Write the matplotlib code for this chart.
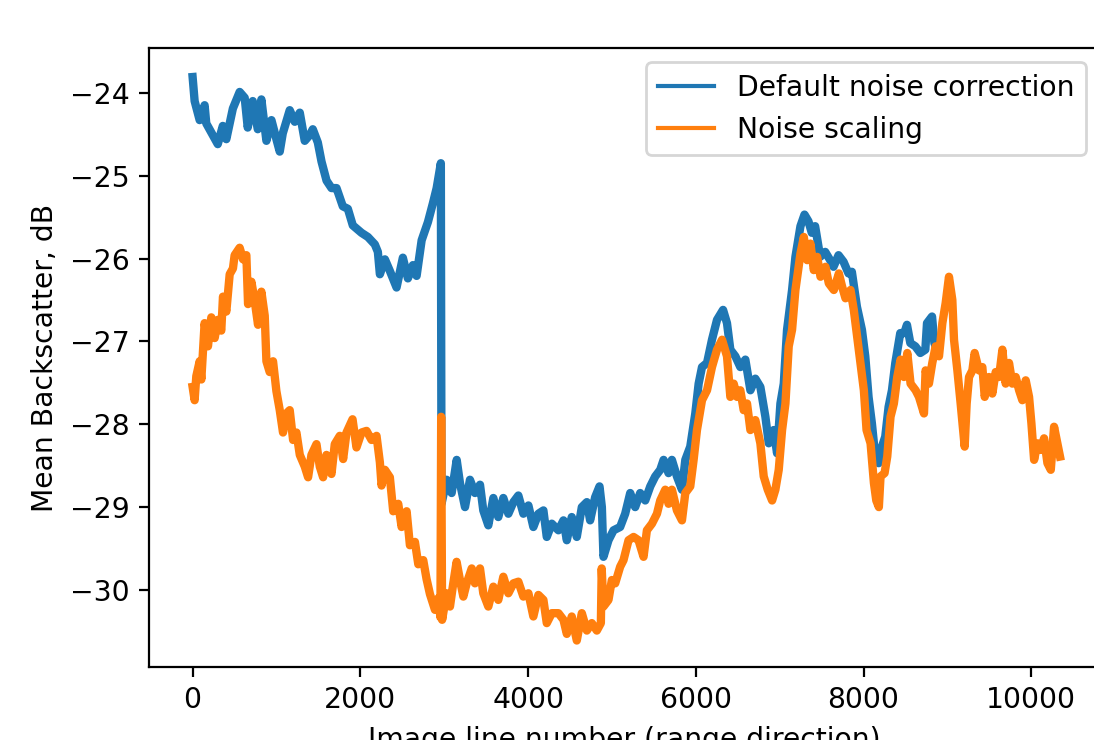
import matplotlib
matplotlib.use("Agg")
import matplotlib.pyplot as plt
from matplotlib.lines import Line2D

# values
default_x = [0, 24, 84, 143, 163, 240, 300, 360, 402, 480, 561, 621, 657, 717, 777, 820,
             880, 940, 999, 1039, 1075, 1158, 1218, 1278, 1337, 1397, 1433, 1493, 1537,
             1597, 1656, 1716, 1791, 1851, 1910, 2014, 2090, 2173, 2209, 2233, 2293, 2352,
             2432, 2507, 2567, 2627, 2671, 2731, 2806, 2866, 2910, 2960, 2968,
             3029, 3089, 3149, 3188, 3248, 3307, 3367, 3427, 3466, 3526, 3586, 3645, 3705,
             3765, 3825, 3884, 3944, 4004, 4063, 4123, 4183, 4223, 4283, 4362, 4422, 4462,
             4521, 4581, 4641, 4701, 4740, 4800, 4852, 4880, 4899, 4959, 5019, 5098, 5158,
             5218, 5277, 5337, 5397, 5457, 5516, 5576, 5616, 5675, 5715, 5775, 5835, 5875,
             5934, 5994, 6034, 6074, 6134, 6193, 6253, 6325, 6372, 6412, 6472, 6531, 6591,
             6651, 6710, 6770, 6830, 6870, 6929, 6969, 7009, 7049, 7088, 7148, 7188, 7248,
             7296, 7343, 7383, 7423, 7483, 7543, 7602, 7642, 7702, 7762, 7821, 7861, 7921,
             7981, 8021, 8060, 8100, 8140, 8180, 8220, 8259, 8299, 8339, 8379, 8438, 8486,
             8518, 8558, 8618, 8677, 8737, 8757, 8817, 8845, 8860]
default_db = [-23.81, -24.10, -24.33, -24.15, -24.37, -24.51, -24.62, -24.40, -24.56, -24.19,
              -23.99, -24.06, -24.42, -24.10, -24.44, -24.08, -24.58, -24.33, -24.56, -24.71,
              -24.49, -24.21, -24.35, -24.24, -24.58, -24.51, -24.44, -24.60, -24.83, -25.06,
              -25.15, -25.15, -25.37, -25.40, -25.60, -25.69, -25.74, -25.83, -25.92, -26.19,
              -26.01, -26.15, -26.35, -25.99, -26.24, -26.08, -26.21, -25.78, -25.56, -25.33,
              -25.15, -24.85, -28.96,
              -28.67, -28.83, -28.43, -28.71, -29.00, -28.67, -28.83, -28.73, -29.04, -29.22,
              -28.89, -29.12, -28.89, -29.08, -28.94, -28.86, -29.08, -28.98, -29.24, -29.08,
              -29.04, -29.36, -29.20, -29.28, -29.16, -29.40, -29.12, -29.36, -29.00, -28.94,
              -29.16, -28.88, -28.75, -29.00, -29.60, -29.40, -29.28, -29.24, -29.08, -28.83,
              -29.00, -28.83, -28.92, -28.75, -28.63, -28.55, -28.43, -28.59, -28.43, -28.63,
              -28.79, -28.43, -28.27, -27.87, -27.51, -27.31, -27.26, -26.98, -26.74, -26.62,
              -26.78, -27.10, -27.18, -27.31, -27.22, -27.59, -27.45, -27.55, -27.91, -28.23,
              -28.07, -28.35, -27.75, -27.51, -26.86, -26.38, -25.98, -25.61, -25.47, -25.55,
              -25.69, -25.61, -25.98, -25.92, -26.02, -26.10, -25.96, -26.04, -26.18, -26.16,
              -26.58, -26.86, -27.18, -27.67, -27.99, -28.39, -28.47, -28.27, -28.15, -27.79,
              -27.59, -27.26, -26.90, -26.90, -26.80, -27.02, -27.06, -27.14, -27.10, -26.78,
              -26.70, -27.02, -27.06]

scaling_x = [0, 24, 44, 84, 104, 143, 183, 223, 263, 302, 342, 362, 402, 442, 481, 501, 561,
             601, 641, 661, 701, 740, 780, 820, 860, 880, 919, 959, 999, 1039, 1078, 1118,
             1158, 1198, 1238, 1278, 1337, 1377, 1417, 1477, 1516, 1556, 1596, 1656, 1695,
             1755, 1795, 1835, 1907, 1954, 2014, 2074, 2134, 2193, 2233, 2253, 2293, 2352,
             2392, 2452, 2492, 2552, 2591, 2651, 2691, 2750, 2790, 2830, 2890, 2929, 2955,
             2964, 2975, 3029, 3069, 3108, 3148, 3188, 3228, 3268, 3328, 3367, 3427, 3466,
             3526, 3586, 3645, 3705, 3765, 3825, 3884, 3944, 4004, 4063, 4123, 4183, 4223,
             4283, 4362, 4422, 4462, 4521, 4581, 4641, 4701, 4760, 4820, 4868, 4878, 4899,
             4959, 4999, 5039, 5098, 5138, 5198, 5258, 5317, 5377, 5417, 5477, 5537, 5576,
             5636, 5675, 5715, 5775, 5835, 5875, 5934, 5974, 6014, 6074, 6134, 6193, 6253,
             6313, 6372, 6412, 6452, 6492, 6531, 6571, 6611, 6651, 6710, 6770, 6810, 6858,
             6910, 6949, 6989, 7029, 7069, 7108, 7148, 7188, 7248, 7288, 7328, 7367, 7407,
             7447, 7487, 7546, 7586, 7646, 7706, 7745, 7785, 7845, 7884, 7924, 7964, 8004,
             8036, 8084, 8124, 8152, 8183, 8203, 8251, 8283, 8322, 8362, 8402, 8442, 8482,
             8522, 8561, 8621, 8661, 8721, 8740, 8780, 8820, 8860, 8900, 8940, 8979, 9019,
             9059, 9079, 9119, 9158, 9206, 9230, 9258, 9298, 9325, 9377, 9417, 9445, 9496,
             9536, 9576, 9616, 9656, 9695, 9735, 9775, 9815, 9855, 9894, 9934, 9974, 10002,
             10034, 10074, 10113, 10153, 10193, 10233, 10272, 10312, 10343]
scaling_db = [-27.55, -27.71, -27.42, -27.24, -27.46, -26.78, -27.06, -26.71, -26.96, -26.74,
              -26.87, -26.46, -26.64, -26.19, -26.12, -25.96, -25.87, -26.01, -25.96, -26.55,
              -26.28, -26.51, -26.80, -26.40, -26.69, -27.24, -27.37, -27.24, -27.60, -27.83,
              -28.10, -27.87, -27.83, -28.19, -28.10, -28.37, -28.51, -28.64, -28.37, -28.24,
              -28.51, -28.64, -28.37, -28.60, -28.24, -28.14, -28.42, -28.10, -27.94, -28.28,
              -28.10, -28.08, -28.19, -28.14, -28.46, -28.74, -28.55, -28.64, -29.05, -28.96,
              -29.24, -29.05, -29.46, -29.42, -29.69, -29.64, -29.87, -30.05, -30.24, -30.10,
              -30.33, -27.91, -30.36, -30.04, -30.20, -29.92, -29.66, -29.88, -30.08, -29.92,
              -29.74, -29.92, -29.74, -30.04, -30.20, -29.96, -30.12, -29.84, -30.04, -29.92,
              -29.90, -30.08, -30.04, -30.32, -30.06, -30.12, -30.40, -30.28, -30.28, -30.36,
              -30.53, -30.32, -30.61, -30.28, -30.49, -30.40, -30.49, -30.40, -29.74, -30.20,
              -30.12, -29.88, -29.92, -29.72, -29.64, -29.40, -29.36, -29.40, -29.60, -29.28,
              -29.20, -29.08, -28.92, -28.79, -28.96, -28.79, -29.04, -29.16, -28.83, -28.75,
              -28.43, -28.07, -27.71, -27.59, -27.31, -27.10, -26.98, -27.18, -27.67, -27.51,
              -27.67, -27.59, -27.83, -27.75, -28.07, -27.95, -28.23, -28.63, -28.79, -28.92,
              -28.79, -28.55, -28.07, -27.75, -27.06, -26.86, -26.38, -25.94, -25.74, -26.02,
              -25.82, -26.14, -25.98, -26.22, -26.10, -26.30, -26.38, -26.18, -26.34, -26.48,
              -26.38, -26.62, -26.94, -27.26, -27.59, -28.07, -28.23, -28.71, -28.92, -29.00,
              -28.63, -28.59, -28.39, -27.91, -27.75, -27.43, -27.22, -27.43, -27.14, -27.51,
              -27.59, -27.67, -27.87, -27.35, -27.51, -27.26, -27.06, -27.18, -26.78, -26.54,
              -26.22, -26.50, -26.98, -27.35, -27.75, -28.27, -27.75, -27.43, -27.35, -27.14,
              -27.35, -27.31, -27.67, -27.43, -27.63, -27.37, -27.43, -27.10, -27.51, -27.26,
              -27.51, -27.43, -27.59, -27.71, -27.47, -27.67, -27.99, -28.43, -28.23, -28.31,
              -28.17, -28.47, -28.55, -28.03, -28.23, -28.39]

labels = ['Default noise correction', 'Noise scaling']

plt.rcParams['font.size'] = 10.2

fig = plt.figure(figsize=(5.47, 3.7), dpi=200)
# right edge of the axes sits just outside the image, as in the reference crop
ax = fig.add_axes([0.1362, 0.0986, 0.8693, 0.8365])

ax.plot(default_x, default_db, color='C0', lw=3.0)
ax.plot(scaling_x, scaling_db, color='C1', lw=3.0)

ax.set_xlim(-520, 10820)
ax.set_ylim(-30.93, -23.46)
ax.set_xlabel('Image line number (range direction)')
ax.set_ylabel('Mean Backscatter, dB')

handles = [Line2D([], [], color='C0', lw=1.5), Line2D([], [], color='C1', lw=1.5)]
ax.legend(handles, labels, loc='upper right')

fig.savefig('out.png', dpi=200)
